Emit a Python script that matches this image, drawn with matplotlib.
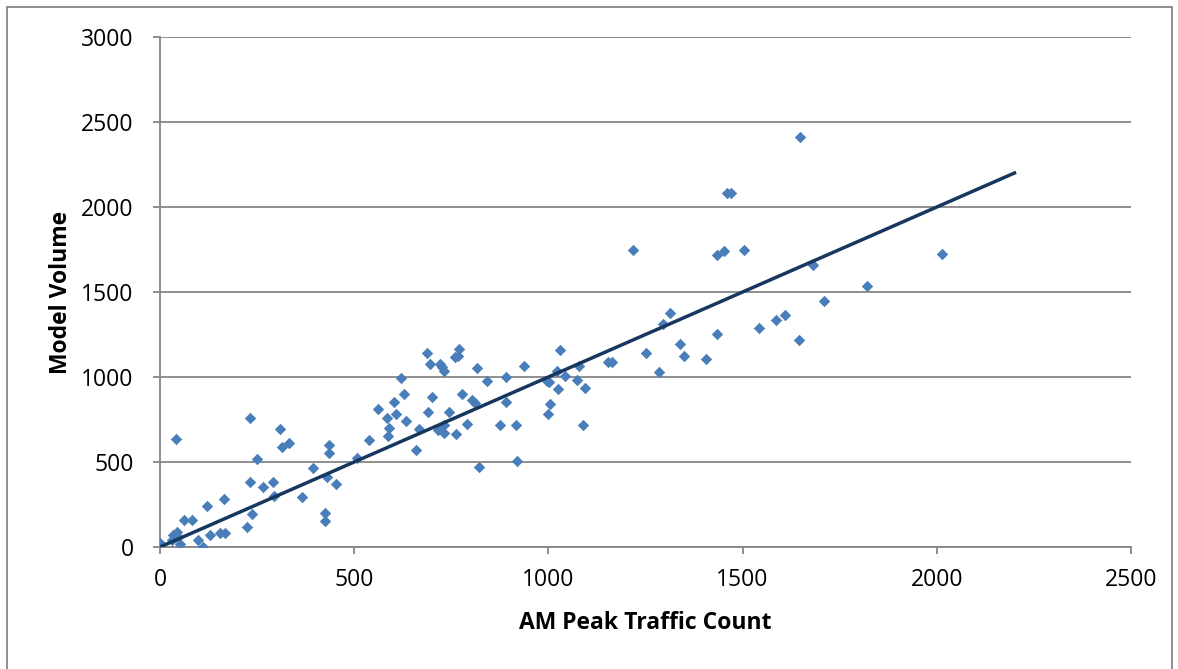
import matplotlib
matplotlib.use("Agg")
import matplotlib.pyplot as plt
from matplotlib.patches import Rectangle

# traffic count (x) vs model volume (y)
count = [0, 42, 232, 309, 314, 331, 251, 436, 436, 393, 430, 453, 232, 266, 290, 294,
         365, 425, 426, 236, 223, 165, 122, 62, 83, 43, 34, 47, 52, 30, 98, 111, 129,
         155, 168,
         507, 537, 562, 585, 589, 587, 603, 607, 620, 628, 634, 658, 668, 688, 696, 720,
         726, 730, 760, 766, 771, 700, 690, 717, 730, 732, 743, 762, 778, 791, 804, 812,
         816, 821, 842, 876, 891, 891, 917, 919,
         937, 1030, 1021, 997, 1002, 1042, 1026, 1074, 1080, 1094, 1004, 999, 1088, 1154,
         1165, 1251, 1284, 1339, 1348, 1406, 1433,
         1709, 1541, 1586, 1608, 1645, 2013, 1460, 1469, 1218, 1433, 1451, 1503, 1680,
         1314, 1295, 1649, 1820]
volume = [25, 638, 758, 696, 588, 614, 520, 598, 553, 467, 412, 373, 382, 353, 382, 300,
          294, 200, 151, 196, 118, 281, 244, 161, 161, 88, 69, 59, 20, 44, 44, 0, 69,
          82, 82,
          523, 632, 810, 761, 702, 653, 853, 781, 996, 898, 741, 573, 692, 1143, 1079, 1079,
          1059, 1035, 1118, 1122, 1167, 882, 794, 686, 716, 671, 794, 667, 898, 722, 863, 849,
          1055, 471, 975, 720, 1000, 853, 720, 504,
          1063, 1161, 1035, 976, 971, 1006, 928, 981, 1065, 935, 839, 781, 720, 1088,
          1088, 1143, 1029, 1196, 1126, 1106, 1255,
          1445, 1288, 1334, 1363, 1216, 1722, 2080, 2080, 1749, 1716, 1739, 1749, 1657,
          1376, 1310, 2412, 1535]

# trend line end points
trend_x = [0, 2200]
trend_y = [0, 2200]

plt.rcParams['font.family'] = ['Open Sans', 'DejaVu Sans']

fig = plt.figure(figsize=(11.78, 6.69), dpi=100)
ax = fig.add_axes([160 / 1178, 1 - 547 / 669, 971 / 1178, 510 / 669])

ax.scatter(count, volume, marker='D', s=34, color='#4A7EBB', zorder=3, linewidths=0)
ax.plot(trend_x, trend_y, color='#17375E', lw=2.5, zorder=4)

ax.set_xlim(0, 2500)
ax.set_ylim(0, 3000)
ax.set_xticks(range(0, 2501, 500))
ax.set_yticks(range(0, 3001, 500))
ax.yaxis.grid(True, color='#868686', lw=1.3)
ax.set_axisbelow(True)

for side in ['top', 'right']:
    ax.spines[side].set_visible(False)
for side in ['left', 'bottom']:
    ax.spines[side].set_color('#868686')
    ax.spines[side].set_linewidth(1.3)
ax.tick_params(colors='#868686', labelcolor='black', labelsize=16.5, length=5, width=1.3)
ax.tick_params(axis='x', pad=10)
ax.tick_params(axis='y', pad=14)

ax.set_xlabel('AM Peak Traffic Count', fontsize=16.5, fontweight='bold', labelpad=14)
ax.set_ylabel('Model Volume', fontsize=16.5, fontweight='bold', labelpad=6)

# chart border
fig.patches.append(Rectangle((7 / 1178, -0.05), 1165 / 1178, 1.05 - 7 / 669,
                             transform=fig.transFigure, fill=False,
                             edgecolor='#868686', lw=1.3))

fig.savefig('out.png', dpi=100)
